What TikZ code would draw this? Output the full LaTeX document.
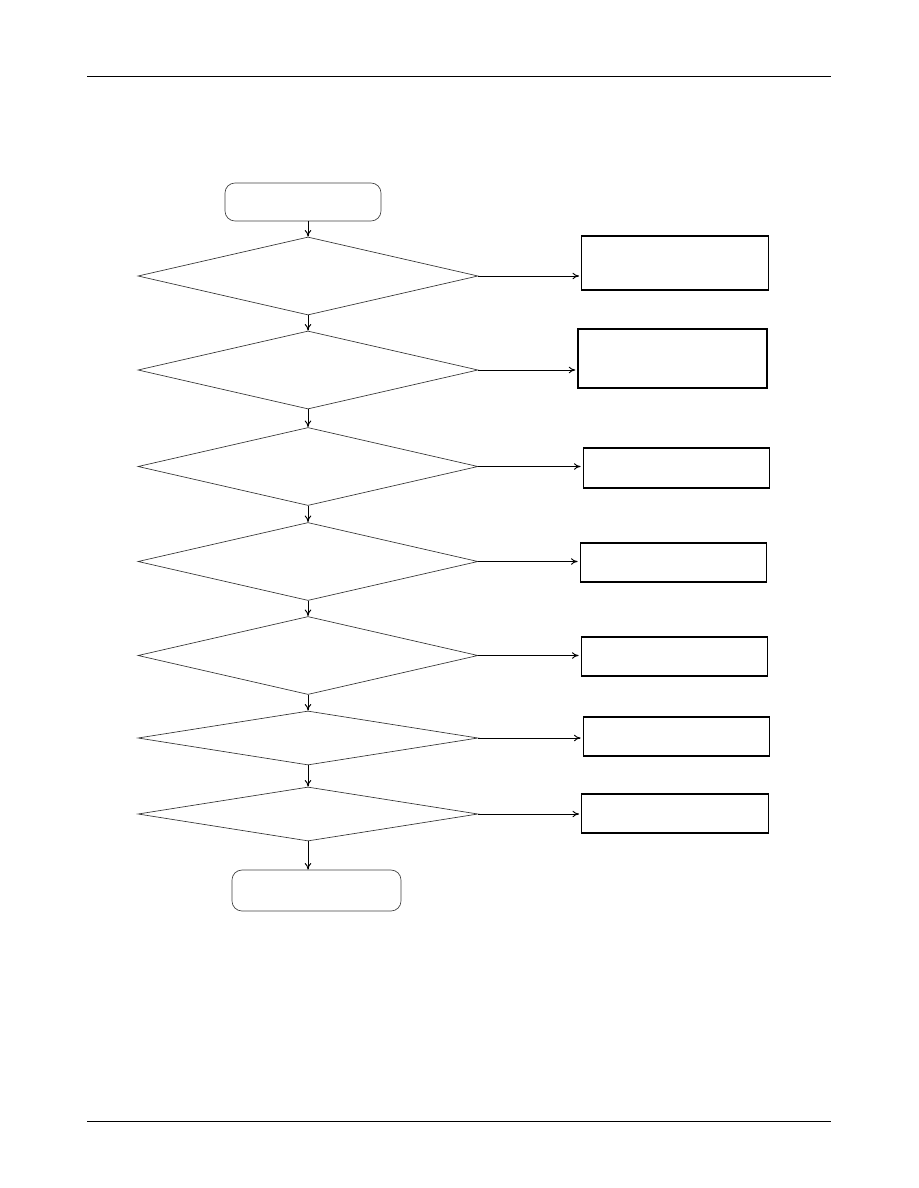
\documentclass[tikz,border=0pt]{standalone}
\usetikzlibrary{shapes.geometric,arrows.meta}
\begin{document}
\begin{tikzpicture}[x=0.75pt,y=-0.75pt,
  decision/.style={diamond,draw=black!80,line width=0.5pt,inner sep=0pt,minimum width=255pt},
  tall/.style={decision,minimum height=58.5pt},
  flat/.style={decision,minimum height=40.5pt},
  terminal/.style={rectangle,rounded corners=7.5pt,draw=black!75,line width=0.5pt,inner sep=0pt},
  action/.style={rectangle,draw=black,line width=0.9pt,inner sep=0pt,minimum width=140pt},
  flow/.style={draw=black,line width=0.7pt,-{To[length=5pt,width=5pt]}},
  rule/.style={draw=black,line width=0.6pt}]
\useasboundingbox (0,0) rectangle (918,1188);
\coordinate (h1) at (87,76); \coordinate (h2) at (831,76);
\coordinate (f1) at (87,1121); \coordinate (f2) at (831,1121);
\draw[rule] (h1) -- (h2);
\draw[rule] (f1) -- (f2);
\node[terminal,minimum width=117pt,minimum height=28.5pt] (start) at (303,202) {};
\node[tall] (d1) at (308,276) {};
\node[tall] (d2) at (308,370) {};
\node[tall] (d3) at (308,466.5) {};
\node[tall] (d4) at (308,561.5) {};
\node[tall] (d5) at (308,655.5) {};
\node[flat] (d6) at (308,738) {};
\node[flat] (d7) at (308,814) {};
\node[terminal,minimum width=126.75pt,minimum height=30.75pt] (end) at (316.5,890.5) {};
\node[action,minimum height=40.5pt] (r1) at (675,263) {};
\node[action,minimum width=141.75pt,minimum height=44.25pt] (r2) at (672.5,358.5) {};
\node[action,minimum height=30pt] (r3) at (676.5,468) {};
\node[action,minimum height=29.25pt] (r4) at (673.5,562.5) {};
\node[action,minimum height=29.25pt] (r5) at (674.5,656.5) {};
\node[action,minimum height=29.25pt] (r6) at (676.5,736.5) {};
\node[action,minimum height=29.25pt] (r7) at (675,813.5) {};
\draw[flow] (d1.north |- start.south) -- (d1.north);
\draw[flow] (d1.south) -- (d2.north);
\draw[flow] (d2.south) -- (d3.north);
\draw[flow] (d3.south) -- (d4.north);
\draw[flow] (d4.south) -- (d5.north);
\draw[flow] (d5.south) -- (d6.north);
\draw[flow] (d6.south) -- (d7.north);
\draw[flow] (d7.south) -- (d7.south |- end.north);
\foreach \i in {1,...,7}{
  \draw[flow,shorten >=1.5pt] (d\i.east) -- (r\i.west |- d\i.east);
}
\end{tikzpicture}
\end{document}
